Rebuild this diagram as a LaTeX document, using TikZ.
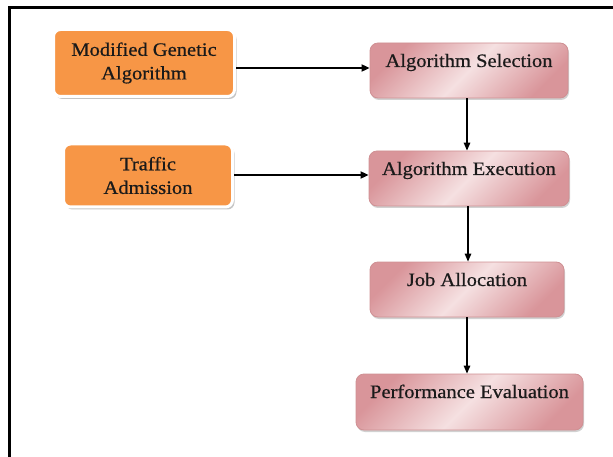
\documentclass[tikz,border=0pt]{standalone}
\usepackage{fontspec}
\setmainfont{Liberation Serif}[FakeStretch=1.08, FakeBold=0.6]
\usetikzlibrary{arrows.meta,shadows}
\definecolor{orangeF}{HTML}{F79646}
\definecolor{pinkD}{HTML}{D9959A}
\definecolor{pinkL}{HTML}{F5E0E1}
\definecolor{pinkB}{HTML}{CF9093}
\definecolor{textC}{HTML}{1A1A1A}
\begin{document}
\begin{tikzpicture}[x=1pt,y=-1pt,
  every node/.style={font=\fontsize{19}{23.6}\selectfont, text=textC},
  srcbox/.style={draw=white, line width=3pt, fill=orangeF, rounded corners=7pt,
    align=center, inner sep=0pt,
    drop shadow={shadow xshift=2pt, shadow yshift=-2.5pt, fill=black!45, opacity=.5}},
  stepbox/.style={draw=pinkB, line width=0.8pt, rounded corners=8pt, inner sep=0pt,
    left color=pinkD, right color=pinkD, middle color=pinkL, shading angle=45,
    drop shadow={shadow xshift=1pt, shadow yshift=-2pt, fill=black!40, opacity=.45}},
  conn/.style={line width=1.8pt, -{Triangle[length=8pt,width=7pt]}},
  vconn/.style={line width=1.3pt, -{Triangle[length=8pt,width=6.5pt]}}
]
\useasboundingbox (0,0) rectangle (613,457);
\draw[line width=3pt] (9,457) -- (9,8) -- (613,8);

\node[srcbox, minimum width=181pt, minimum height=67pt] (mga) at (144,63) {Modified Genetic\\Algorithm};
\node[srcbox, minimum width=169pt, minimum height=63pt] (ta) at (148,175.5) {Traffic\\Admission};

\node[stepbox, minimum width=198pt, minimum height=55pt] (as) at (469,70.5) {\raisebox{3.5pt}[0pt][0pt]{Algorithm Selection}};
\node[stepbox, minimum width=200pt, minimum height=55pt] (ae) at (469,178.5) {\raisebox{3.5pt}[0pt][0pt]{Algorithm Execution}};
\node[stepbox, minimum width=194pt, minimum height=55pt] (ja) at (467,289.5) {\raisebox{3.5pt}[0pt][0pt]{Job Allocation}};
\node[stepbox, minimum width=227pt, minimum height=56pt] (pe) at (469.5,402) {\raisebox{4pt}[0pt][0pt]{Performance Evaluation}};

\draw[conn] (mga.east |- 0,68) -- (as.west |- 0,68);
\draw[conn] (ta.east |- 0,175) -- (ae.west |- 0,175);
\draw[vconn] (as.south -| 467,0) -- (ae.north -| 467,0);
\draw[vconn] (ae.south -| 468,0) -- (ja.north -| 468,0);
\draw[vconn] (ja.south -| 467,0) -- (pe.north -| 467,0);
\end{tikzpicture}
\end{document}
